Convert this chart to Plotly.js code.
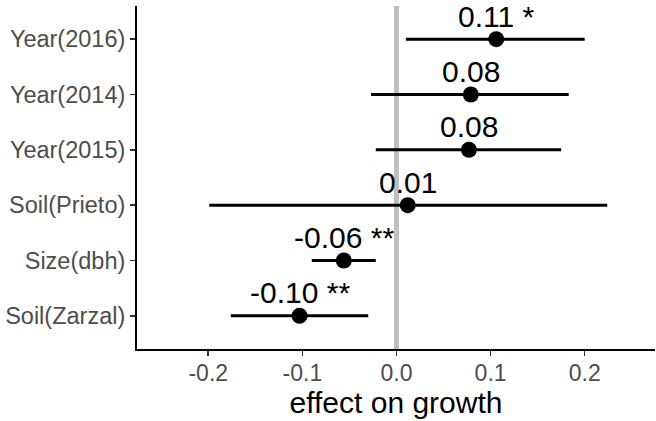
<!DOCTYPE html>
<html>
<head>
<meta charset="utf-8">
<script src="https://cdn.plot.ly/plotly-3.0.1.min.js"></script>
<style>html,body{margin:0;padding:0;background:#fff;}#chart{width:656px;height:421px;}</style>
</head>
<body>
<div id="chart"></div>
<script>
var terms = ["Soil(Zarzal)", "Size(dbh)", "Soil(Prieto)", "Year(2015)", "Year(2014)", "Year(2016)"];
var estimates = [-0.103, -0.056, 0.012, 0.077, 0.079, 0.106];
var ciLow = [-0.176, -0.090, -0.199, -0.022, -0.027, 0.010];
var ciHigh = [-0.030, -0.022, 0.224, 0.175, 0.183, 0.200];
var labels = ["-0.10 **", "-0.06 **", "0.01", "0.08", "0.08", "0.11 *"];

var trace = {
  type: "scatter",
  mode: "markers",
  x: estimates,
  y: terms,
  marker: {color: "#000000", size: 16},
  error_x: {
    type: "data",
    symmetric: false,
    array: estimates.map(function(v, i){ return ciHigh[i] - v; }),
    arrayminus: estimates.map(function(v, i){ return v - ciLow[i]; }),
    color: "#000000",
    thickness: 3,
    width: 0
  },
  hoverinfo: "skip",
  showlegend: false
};

var annotations = terms.map(function(t, i){
  return {
    x: estimates[i], y: t, xref: "x", yref: "y",
    text: labels[i], showarrow: false,
    xanchor: "center", yanchor: "middle", yshift: 23,
    font: {family: "Liberation Sans, Arial, sans-serif", size: 30, color: "#000000"}
  };
});

var layout = {
  width: 656, height: 421,
  margin: {l: 137, r: 1, t: 6, b: 72},
  paper_bgcolor: "#ffffff",
  plot_bgcolor: "#ffffff",
  font: {family: "Liberation Sans, Arial, sans-serif"},
  xaxis: {
    range: [-0.2757, 0.2747],
    tickvals: [-0.2, -0.1, 0.0, 0.1, 0.2],
    ticktext: ["-0.2", "-0.1", "0.0", "0.1", "0.2"],
    showgrid: false, zeroline: false,
    showline: true, linecolor: "#000000", linewidth: 2,
    ticks: "outside", ticklen: 5, tickwidth: 1.5, tickcolor: "#333333",
    ticklabelstandoff: -3,
    tickfont: {size: 23, color: "#4d4d4d"},
    title: {text: "effect on growth", font: {size: 30, color: "#000000"}, standoff: 6}
  },
  yaxis: {
    type: "category",
    categoryorder: "array",
    categoryarray: terms,
    range: [-0.6, 5.6],
    showgrid: false, zeroline: false,
    showline: true, linecolor: "#000000", linewidth: 2,
    ticks: "outside", ticklen: 5, tickwidth: 1.5, tickcolor: "#333333",
    tickfont: {size: 23.5, color: "#4d4d4d"}
  },
  shapes: [{
    type: "line", xref: "x", yref: "paper",
    x0: 0, x1: 0, y0: 0, y1: 1,
    line: {color: "#bebebe", width: 5},
    layer: "below"
  }],
  annotations: annotations
};

Plotly.newPlot("chart", [trace], layout, {displayModeBar: false, staticPlot: true});
</script>
</body>
</html>
